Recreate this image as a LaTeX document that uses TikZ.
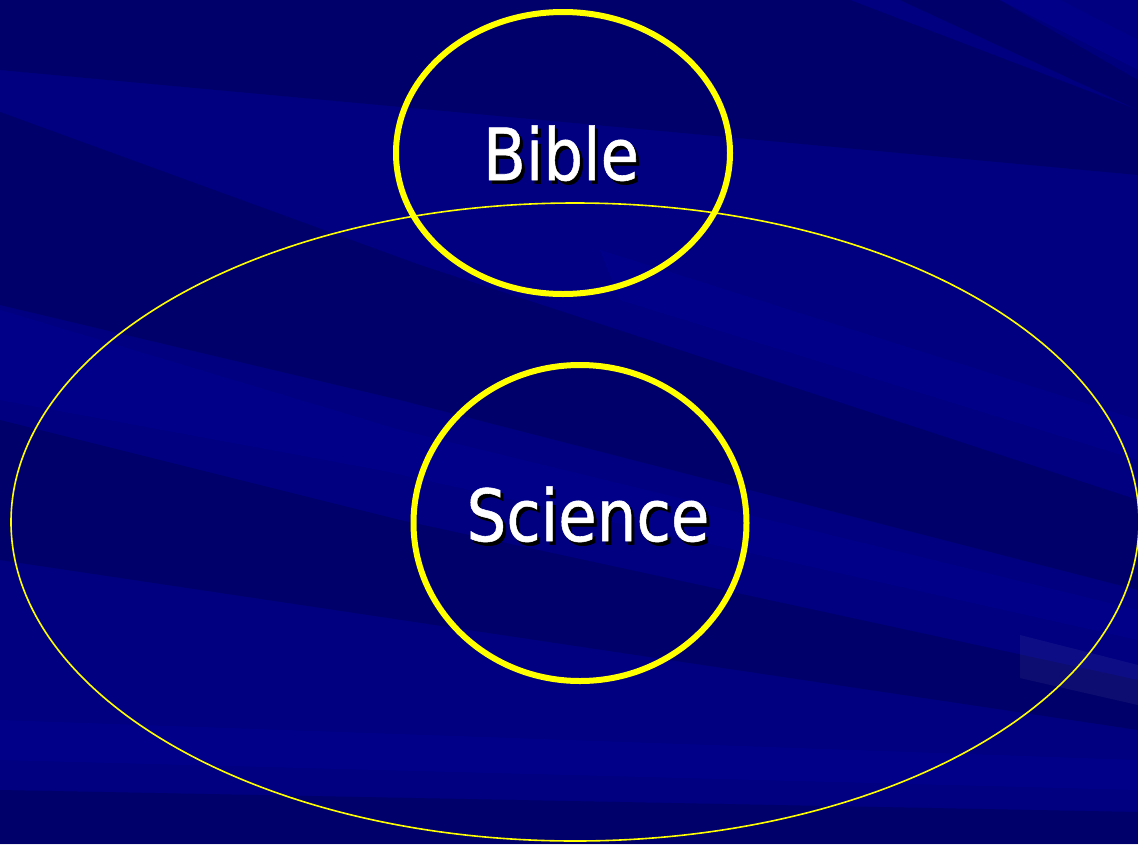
\documentclass[tikz,border=0pt]{standalone}
\usepackage{fontspec}
\setmainfont{DejaVu Sans}
\newfontfamily\wordfont[FakeBold=0.8]{DejaVu Sans}
\usetikzlibrary{shapes.geometric}
\definecolor{bgbase}{RGB}{0,0,128}
\definecolor{bgdark}{RGB}{0,0,92}
\definecolor{bglight}{RGB}{0,0,150}
\definecolor{ring}{RGB}{255,255,0}
\newcommand\shadowword[1]{\makebox[0pt][l]{\hspace{3.5pt}\raisebox{-3.5pt}{\color{black}#1}}#1}
\tikzset{
  ring/.style={ellipse, draw=ring, inner sep=0pt},
  thickring/.style={ring, line width=6pt},
  thinring/.style={ring, line width=1.6pt},
  word/.style={text=white, font=\wordfont\fontsize{72}{80}\selectfont, inner sep=0pt, xscale=0.87},
  darkband/.style={fill=bgdark, opacity=0.6},
  lightband/.style={fill=bglight, opacity=0.45}
}
\begin{document}
\begin{tikzpicture}[x=1pt,y=-1pt]
\useasboundingbox (0,0) rectangle (1138,844);
% background
\fill[bgbase] (0,0) rectangle (1138,844);
\fill[darkband] (0,0) -- (850,0) -- (1138,110) -- (1138,175) -- (0,70) -- cycle;
\fill[darkband] (0,112) -- (420,265) -- (1138,500) -- (1138,590) -- (400,400) -- (0,305) -- cycle;
\fill[darkband] (0,420) -- (400,520) -- (1138,680) -- (1138,730) -- (0,560) -- cycle;
\fill[darkband] (0,790) -- (1138,812) -- (1138,844) -- (0,844) -- cycle;
\fill[darkband] (900,0) -- (1000,0) -- (1138,70) -- (1138,110) -- cycle;
\fill[lightband] (0,310) -- (400,430) -- (1138,610) -- (1138,640) -- (380,470) -- (0,400) -- cycle;
\fill[lightband] (0,720) -- (1138,760) -- (1138,790) -- (0,760) -- cycle;
\fill[lightband] (1000,0) -- (1060,0) -- (1138,40) -- (1138,80) -- cycle;
\fill[lightband] (600,250) -- (1138,420) -- (1138,460) -- (620,300) -- cycle;
\fill[white, opacity=0.05] (1020,635) -- (1138,665) -- (1138,705) -- (1020,678) -- cycle;
% rings
\node[thinring, minimum width=1128pt, minimum height=638pt] (science field) at (575,522) {};
\node[thickring, minimum width=334pt, minimum height=282pt] (bible) at (563,153) {};
\node[thickring, minimum width=333pt, minimum height=316pt] (science) at (580,523) {};
% labels
\node[word] (bible label) at (561,155) {\shadowword{Bible}};
\node[word] (science label) at (588,516) {\shadowword{Science}};
\end{tikzpicture}
\end{document}
